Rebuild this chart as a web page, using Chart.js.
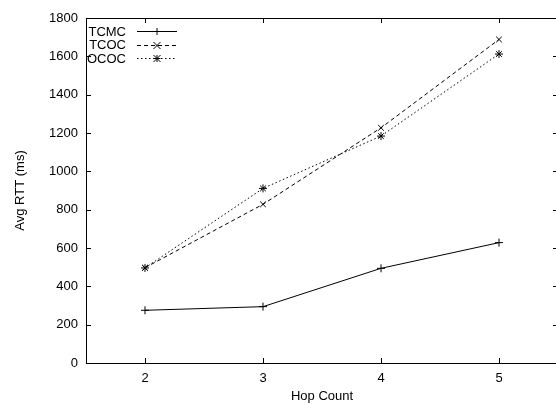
<!DOCTYPE html>
<html>
<head>
<meta charset="utf-8">
<script src="https://cdn.jsdelivr.net/npm/chart.js@4"></script>
<style>
  html, body { margin: 0; padding: 0; background: #fff; overflow: hidden; }
  /* the plot frame runs a few px past the window on the right, as in the original */
  #wrap { width: 563px; height: 404px; }
</style>
</head>
<body>
<div id="wrap"><canvas id="rtt"></canvas></div>
<script>
// ------- Data -------
let hops = [2, 3, 4, 5];
let tcmc = [275, 294, 494, 628];
let tcoc = [497, 828, 1227, 1688];
let ococ = [496, 911, 1184, 1612];
let yTicks = [0, 200, 400, 600, 800, 1000, 1200, 1400, 1600, 1800];

const FONT = "'Liberation Sans', Arial, sans-serif";

function pts(vals) {
  return hops.map((h, i) => ({ x: h, y: vals[i] }));
}

// gnuplot-like frame, inward mirrored ticks and the legend with text on the left
const gnuFrame = {
  id: "gnuFrame",
  afterDraw(chart) {
    let ctx = chart.ctx,
      a = chart.chartArea,
      xs = chart.scales.x,
      ys = chart.scales.y;
    ctx.save();
    ctx.strokeStyle = "#000";
    ctx.lineWidth = 1;
    ctx.setLineDash([]);
    ctx.beginPath();
    ctx.moveTo(a.right, a.top + 0.5);
    ctx.lineTo(a.left + 0.5, a.top + 0.5);
    ctx.lineTo(a.left + 0.5, a.bottom + 0.5);
    ctx.lineTo(a.right, a.bottom + 0.5);
    ctx.stroke();
    // y ticks
    yTicks.forEach((v) => {
      let py = Math.round(ys.getPixelForValue(v)) + 0.5;
      ctx.beginPath();
      ctx.moveTo(a.left, py);
      ctx.lineTo(a.left + 5, py);
      ctx.moveTo(a.right, py);
      ctx.lineTo(a.right - 5, py);
      ctx.stroke();
    });
    // x ticks
    hops.forEach((v) => {
      let px = Math.round(xs.getPixelForValue(v)) + 0.5;
      ctx.beginPath();
      ctx.moveTo(px, a.bottom);
      ctx.lineTo(px, a.bottom - 5);
      ctx.moveTo(px, a.top);
      ctx.lineTo(px, a.top + 5);
      ctx.stroke();
    });
    // legend
    ctx.font = "13px " + FONT;
    ctx.fillStyle = "#000";
    ctx.textAlign = "right";
    ctx.textBaseline = "middle";
    chart.data.datasets.forEach((ds, i) => {
      let y = a.top + 13 + i * 13.5;
      ctx.fillText(ds.label, a.left + 40, y + 1);
      ctx.beginPath();
      ctx.setLineDash(ds.borderDash || []);
      ctx.moveTo(a.left + 51, Math.round(y) + 0.5);
      ctx.lineTo(a.left + 91, Math.round(y) + 0.5);
      ctx.stroke();
      ctx.setLineDash([]);
      drawMarker(ctx, ds.pointStyle, a.left + 71, Math.round(y) + 0.5, 3.5);
    });
    ctx.restore();
  },
};

function drawMarker(ctx, style, x, y, r) {
  ctx.beginPath();
  if (style === "cross" || style === "star") {
    ctx.moveTo(x - r, y);
    ctx.lineTo(x + r, y);
    ctx.moveTo(x, y - r);
    ctx.lineTo(x, y + r);
  }
  if (style === "crossRot" || style === "star") {
    ctx.moveTo(x - r, y - r);
    ctx.lineTo(x + r, y + r);
    ctx.moveTo(x - r, y + r);
    ctx.lineTo(x + r, y - r);
  }
  ctx.stroke();
}

// ------- Chart -------
new Chart("rtt", {
  type: "line",
  data: {
    datasets: [
      {
        label: "TCMC",
        data: pts(tcmc),
        borderColor: "#000",
        borderWidth: 1,
        pointStyle: "cross",
        pointRadius: 4,
        pointBorderColor: "#000",
        pointBorderWidth: 1,
      },
      {
        label: "TCOC",
        data: pts(tcoc),
        borderColor: "#000",
        borderWidth: 1,
        borderDash: [4, 3],
        pointStyle: "crossRot",
        pointRadius: 4,
        pointBorderColor: "#000",
        pointBorderWidth: 1,
      },
      {
        label: "OCOC",
        data: pts(ococ),
        borderColor: "#000",
        borderWidth: 1,
        borderDash: [1.5, 2.5],
        pointStyle: "star",
        pointRadius: 4,
        pointBorderColor: "#000",
        pointBorderWidth: 1,
      },
    ],
  },
  options: {
    responsive: true,
    maintainAspectRatio: false,
    animation: false,
    layout: { padding: { top: 18, right: 0, left: 0, bottom: 0 } },
    plugins: { legend: { display: false }, tooltip: { enabled: false } },
    elements: { line: { tension: 0 } },
    scales: {
      x: {
        type: "linear",
        min: 1.5,
        max: 5.5,
        afterBuildTicks: (s) => { s.ticks = hops.map((v) => ({ value: v })); },
        afterFit: (s) => { s.height = 41; },
        grid: { display: false, drawTicks: false },
        border: { display: false },
        ticks: { color: "#000", font: { family: FONT, size: 13 }, padding: 8 },
        title: { display: true, text: "Hop Count", color: "#000", font: { family: FONT, size: 13 }, padding: { top: 1, bottom: 0 } },
      },
      y: {
        min: 0,
        max: 1800,
        afterBuildTicks: (s) => { s.ticks = yTicks.map((v) => ({ value: v })); },
        afterFit: (s) => { s.width = 86; },
        grid: { display: false, drawTicks: false },
        border: { display: false },
        ticks: { color: "#000", font: { family: FONT, size: 13 }, padding: 8, callback: (v) => String(v) },
        title: { display: true, text: "Avg RTT (ms)", color: "#000", font: { family: FONT, size: 13 }, padding: { top: 13, bottom: 0 } },
      },
    },
  },
  plugins: [gnuFrame],
});
</script>
</body>
</html>
